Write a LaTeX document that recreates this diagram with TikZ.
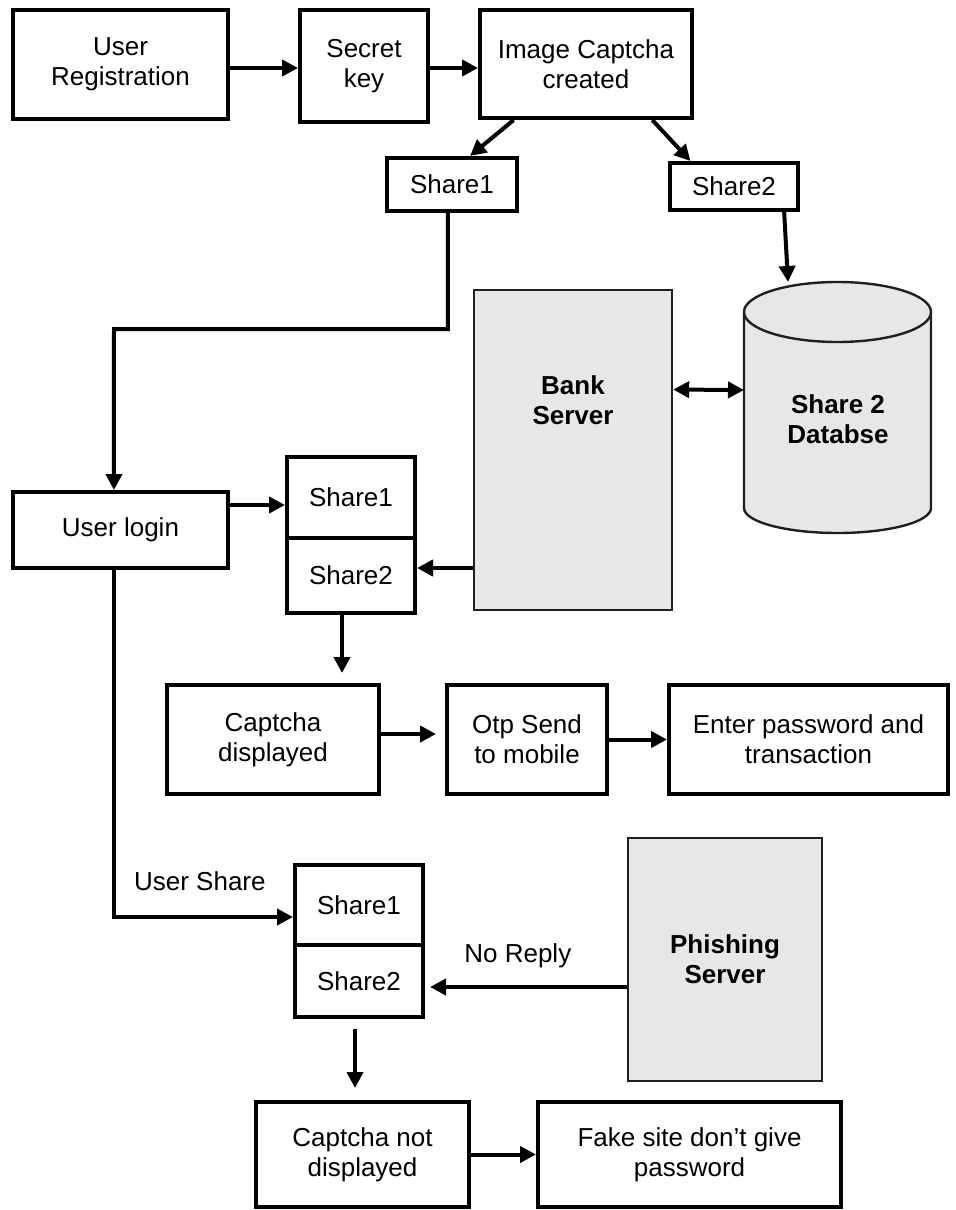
\documentclass[tikz,border=0pt]{standalone}
\usepackage{fontspec}
\setmainfont{Liberation Sans}
\usetikzlibrary{arrows.meta, calc}
\definecolor{srvgray}{HTML}{E6E7E8}
\definecolor{srvline}{HTML}{231F20}
\tikzset{
  box/.style={draw, line width=2pt, inner sep=0pt, align=center, font=\fontsize{13}{15}\selectfont},
  srvbox/.style={draw=srvline, line width=1.2pt, fill=srvgray, inner sep=0pt},
  srvtext/.style={align=center, font=\fontsize{13}{15}\selectfont\bfseries},
  lbl/.style={font=\fontsize{13}{15}\selectfont},
  arr/.style={line width=2pt, -{Triangle[length=8pt, width=8pt]}},
  dblarr/.style={line width=2pt, {Triangle[length=8pt, width=8pt]}-{Triangle[length=8pt, width=8pt]}}
}
\begin{document}
\begin{tikzpicture}[x=0.5pt, y=-0.5pt]
  \useasboundingbox (0,0) rectangle (956,1210);

  % registration row
  \node[box, minimum width=107.5pt, minimum height=54.5pt] (reg) at (120.5,64.5) {User\\Registration};
  \node[box, minimum width=64pt, minimum height=56pt] (key) at (364,66) {Secret\\key};
  \node[box, minimum width=106pt, minimum height=54pt] (img) at (586,64) {Image Captcha\\created};
  \node[box, minimum width=65pt, minimum height=26.5pt] (shA) at (452,184.5) {Share1};
  \node[box, minimum width=64pt, minimum height=23.5pt] (shB) at (734,186.5) {Share2};

  % servers and database
  \node[srvbox, minimum width=99pt, minimum height=160pt] (bank) at (573,450) {};
  \node[srvtext] (bankt) at (573,400) {Bank\\Server};
  \node[srvbox, minimum width=97pt, minimum height=121.5pt, srvtext] (phish) at (725,959.5) {Phishing\\Server};
  \filldraw[srvbox] (744,312) -- (744,508) arc[start angle=180, end angle=360, x radius=46.75pt, y radius=12.5pt] -- (931,312);
  \filldraw[srvbox] (837.5,312) ellipse[x radius=46.75pt, y radius=15pt];
  \node[srvtext] (db) at (838,419) {Share 2\\Databse};
  \coordinate (dbtop) at (788,282);
  \coordinate (dbwest) at (744,390);

  % login part
  \node[box, minimum width=107.5pt, minimum height=38pt] (login) at (120.5,530) {User login};
  \node[box, minimum width=64pt, minimum height=40.5pt] (mS1) at (351,497.5) {Share1};
  \node[box, minimum width=64pt, minimum height=37.5pt] (mS2) at (351,575.5) {Share2};
  \node[box, minimum width=106pt, minimum height=54.5pt] (capt) at (273,739.5) {Captcha\\displayed};
  \node[box, minimum width=80pt, minimum height=54.5pt] (otp) at (527,739.5) {Otp Send\\to mobile};
  \node[box, minimum width=139.5pt, minimum height=54.5pt] (pwd) at (808.5,739.5) {Enter password and\\transaction};

  % phishing part
  \node[box, minimum width=64pt, minimum height=40pt] (lS1) at (359,905) {Share1};
  \node[box, minimum width=64pt, minimum height=36pt] (lS2) at (359,981) {Share2};
  \node[box, minimum width=106.5pt, minimum height=52.5pt] (ncap) at (362.5,1154.5) {Captcha not\\displayed};
  \node[box, minimum width=151.5pt, minimum height=52.5pt] (fake) at (689.5,1154.5) {Fake site don’t give\\password};

  % connectors
  \draw[arr] (reg.east |- 0,68) -- (key.west |- 0,68);
  \draw[arr] (key.east |- 0,68) -- (img.west |- 0,68);
  \draw[arr] ($(img.south west)!.165!(img.south east)$) -- ($(shA.north west)!.635!(shA.north east)$);
  \draw[arr] ($(img.south west)!.807!(img.south east)$) -- ($(shB.north west)!.17!(shB.north east)$);
  \draw[arr] ($(shB.south west)!.88!(shB.south east)$) -- (dbtop);
  \draw[arr] ($(shA.south west)!.47!(shA.south east)$) |- (114,329) -- ($(login.north west)!.47!(login.north east)$);
  \draw[dblarr] ($(bank.north east)!.3125!(bank.south east)$) -- (dbwest);
  \draw[arr] (login.east |- 0,505) -- (mS1.west |- 0,505);
  \draw[arr] (bank.west |- 0,568) -- (mS2.east |- 0,568);
  \draw[arr, shorten >=5pt] (mS2.south -| 342,0) -- (capt.north -| 342,0);
  \draw[arr, shorten >=4.5pt] (capt.east |- 0,734) -- (otp.west |- 0,734);
  \draw[arr] (otp.east) -- (pwd.west);
  \draw[arr] ($(login.south west)!.47!(login.south east)$) |- (lS1.west |- 0,917)
    node[lbl, pos=.74, above=9pt] {User Share};
  \draw[arr, shorten >=2.5pt] (phish.west |- 0,987) -- (lS2.east |- 0,987)
    node[lbl, pos=.54, above=5pt] {No Reply};
  \draw[arr, shorten <=5pt, shorten >=6pt] (lS2.south -| 355,0) -- (ncap.north -| 355,0);
  \draw[arr] (ncap.east) -- (fake.west);
\end{tikzpicture}
\end{document}
